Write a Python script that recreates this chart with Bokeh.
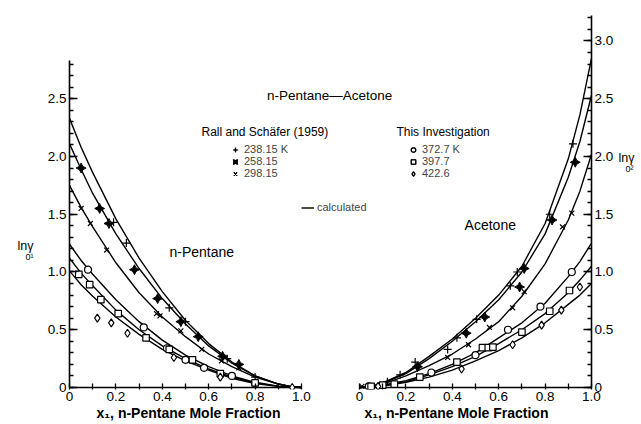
from bokeh.plotting import figure
from bokeh.layouts import row, column
from bokeh.models import (Range1d, LinearAxis, SingleIntervalTicker, FixedTicker,
                          CustomJSTickFormatter, Label, Legend, LegendItem)
from bokeh.embed import file_html
from bokeh.resources import INLINE

# ---------------- data ----------------
x_grid = [0.0, 0.05, 0.1, 0.2, 0.3, 0.4, 0.5, 0.6, 0.7, 0.8, 0.9, 0.95, 1.0]

# calculated ln gamma1 (left panel, n-pentane)
g1_23815 = [2.33, 2.08, 1.86, 1.46, 1.12, 0.83, 0.58, 0.38, 0.22, 0.10, 0.03, 0.01, 0.0]
g1_25815 = [2.11, 1.89, 1.68, 1.33, 1.03, 0.77, 0.55, 0.36, 0.21, 0.10, 0.03, 0.01, 0.0]
g1_29815 = [1.75, 1.56, 1.39, 1.08, 0.82, 0.61, 0.44, 0.29, 0.18, 0.09, 0.03, 0.01, 0.0]
g1_3727 = [1.24, 1.10, 0.98, 0.76, 0.57, 0.41, 0.28, 0.18, 0.10, 0.045, 0.012, 0.003, 0.0]
g1_3977 = [1.12, 0.99, 0.88, 0.67, 0.50, 0.36, 0.25, 0.16, 0.09, 0.04, 0.01, 0.003, 0.0]
g1_4226 = [1.01, 0.89, 0.79, 0.61, 0.46, 0.33, 0.23, 0.15, 0.08, 0.035, 0.01, 0.002, 0.0]

# calculated ln gamma2 (right panel, acetone)
g2_23815 = [0.0, 0.01, 0.04, 0.13, 0.27, 0.42, 0.60, 0.80, 1.05, 1.42, 1.98, 2.36, 2.85]
g2_25815 = [0.0, 0.01, 0.035, 0.12, 0.25, 0.40, 0.57, 0.76, 1.00, 1.33, 1.82, 2.13, 2.53]
g2_29815 = [0.0, 0.008, 0.03, 0.10, 0.19, 0.29, 0.42, 0.57, 0.79, 1.07, 1.45, 1.70, 2.02]
g2_3727 = [0.0, 0.005, 0.02, 0.06, 0.12, 0.20, 0.30, 0.43, 0.56, 0.73, 0.96, 1.09, 1.25]
g2_3977 = [0.0, 0.004, 0.015, 0.05, 0.11, 0.18, 0.27, 0.38, 0.50, 0.64, 0.82, 0.93, 1.05]
g2_4226 = [0.0, 0.003, 0.013, 0.045, 0.09, 0.15, 0.23, 0.32, 0.43, 0.56, 0.72, 0.80, 0.90]

# experimental points, left panel
L_238_x = [0.19, 0.245, 0.43, 0.50, 0.68, 0.80]
L_238_y = [1.43, 1.25, 0.69, 0.57, 0.25, 0.09]
L_258_x = [0.05, 0.13, 0.17, 0.28, 0.38, 0.48, 0.555, 0.66, 0.73]
L_258_y = [1.90, 1.55, 1.42, 1.02, 0.77, 0.57, 0.44, 0.27, 0.20]
L_298_x = [0.05, 0.09, 0.16, 0.375, 0.39, 0.48, 0.57, 0.655, 0.73]
L_298_y = [1.55, 1.42, 1.19, 0.64, 0.62, 0.49, 0.33, 0.23, 0.17]
L_373_x = [0.08, 0.32, 0.42, 0.50, 0.58, 0.70, 0.80]
L_373_y = [1.02, 0.52, 0.34, 0.24, 0.17, 0.10, 0.04]
L_398_x = [0.04, 0.087, 0.135, 0.21, 0.33, 0.43, 0.53, 0.65, 0.80]
L_398_y = [0.98, 0.89, 0.76, 0.64, 0.43, 0.33, 0.24, 0.12, 0.04]
L_423_x = [0.12, 0.18, 0.25, 0.45, 0.65, 0.96]
L_423_y = [0.60, 0.56, 0.47, 0.26, 0.09, 0.0]

# experimental points, right panel
R_238_x = [0.12, 0.175, 0.24, 0.38, 0.42, 0.505, 0.65, 0.68, 0.82, 0.92]
R_238_y = [0.05, 0.11, 0.22, 0.33, 0.43, 0.59, 0.88, 1.00, 1.50, 2.11]
R_258_x = [0.25, 0.46, 0.54, 0.69, 0.71, 0.83, 0.93]
R_258_y = [0.18, 0.47, 0.61, 0.87, 1.03, 1.45, 1.95]
R_298_x = [0.01, 0.38, 0.47, 0.56, 0.66, 0.71, 0.875, 0.915]
R_298_y = [0.01, 0.26, 0.37, 0.52, 0.69, 0.83, 1.39, 1.51]
R_373_x = [0.04, 0.31, 0.50, 0.64, 0.78, 0.915]
R_373_y = [0.01, 0.13, 0.28, 0.50, 0.70, 1.00]
R_398_x = [0.05, 0.10, 0.15, 0.26, 0.42, 0.53, 0.555, 0.575, 0.70, 0.82, 0.905]
R_398_y = [0.01, 0.02, 0.03, 0.09, 0.22, 0.345, 0.345, 0.35, 0.48, 0.66, 0.84]
R_423_x = [0.08, 0.44, 0.66, 0.785, 0.87, 0.95]
R_423_y = [0.01, 0.16, 0.37, 0.54, 0.67, 0.87]

x_ticks = [0.0, 0.2, 0.4, 0.6, 0.8, 1.0]
x_minor = [0.1, 0.3, 0.5, 0.7, 0.9]
series_labels_rall = ["238.15 K", "258.15", "298.15"]
series_labels_inv = ["372.7 K", "397.7", "422.6"]
x_axis_title = "x\u2081, n-Pentane Mole Fraction"

XOFF = 1.25      # right panel origin, in left-panel x units
FONT = "Liberation Sans"

# layout sizes (px)
LW, RW = 44, 26                  # side text strips
BL, BR, BT, BB = 24, 22, 13, 17  # main figure borders
FW, FH = 522, 376                # main frame
MH = BT + FH + BB
BH = 16                          # bottom text strip
TOTW = LW + BL + FW + BR + RW
SHIFT = 13                       # measured vertical offset of the side strips

p = figure(output_backend="svg", toolbar_location=None,
           frame_width=FW, frame_height=FH,
           x_range=Range1d(0, 2.25), y_range=Range1d(-0.0173, 3.238),
           min_border_left=BL, min_border_right=BR, min_border_top=BT, min_border_bottom=BB,
           background_fill_color="white", border_fill_color="white",
           outline_line_color=None)
p.extra_x_ranges = {"r": Range1d(-XOFF, 2.25 - XOFF)}
p.grid.visible = False

# combined x axis (both panels) -- axis lines drawn separately
xa = p.xaxis[0]
xa.ticker = FixedTicker(ticks=x_ticks + [t + XOFF for t in x_ticks],
                        minor_ticks=x_minor + [t + XOFF for t in x_minor])
xa.formatter = CustomJSTickFormatter(args=dict(off=XOFF), code="""
    let v = tick > 1.1 ? tick - off : tick;
    v = Math.round(v * 10) / 10;
    return v == 0 ? '0' : v.toFixed(1);
""")
xa.axis_line_color = None
xa.major_tick_in = 6
xa.major_tick_out = 0
xa.minor_tick_in = 6
xa.minor_tick_out = 0
xa.major_tick_line_width = 1.3
xa.minor_tick_line_width = 1.3
xa.major_label_standoff = 2

yfmt = "return tick == 0 ? '0' : tick.toFixed(1);"
ya = p.yaxis[0]
ya.bounds = (0, 2.83)
ya.ticker = SingleIntervalTicker(interval=0.5, num_minor_ticks=5)
ya.formatter = CustomJSTickFormatter(code=yfmt)
ra = LinearAxis(bounds=(0, 3.22),
                ticker=SingleIntervalTicker(interval=0.5, num_minor_ticks=5),
                formatter=CustomJSTickFormatter(code=yfmt))
p.add_layout(ra, "right")
for ax in [ya, ra]:
    ax.axis_line_width = 1.6
    ax.major_tick_in = 8
    ax.major_tick_out = 0
    ax.minor_tick_in = 4
    ax.minor_tick_out = 0
    ax.major_tick_line_width = 1.5
    ax.minor_tick_line_width = 1.3
    ax.major_label_standoff = 3
for ax in [xa, ya, ra]:
    ax.major_label_text_font = FONT
    ax.major_label_text_font_size = "13.5px"
    ax.major_label_text_color = "black"

# baselines of both panels
p.line([x_ticks[0], x_ticks[-1]], [0, 0], line_color="black", line_width=1.6)
p.line([x_ticks[0], x_ticks[-1]], [0, 0], line_color="black", line_width=1.6, x_range_name="r")

# calculated curves
calc = []
for c in [g1_23815, g1_25815, g1_29815, g1_3727, g1_3977, g1_4226]:
    calc.append(p.line(x_grid, c, line_color="black", line_width=1.4))
for c in [g2_23815, g2_25815, g2_29815, g2_3727, g2_3977, g2_4226]:
    p.line(x_grid, c, line_color="black", line_width=1.4, x_range_name="r")

styles = [
    dict(marker="cross", size=8, line_color="black", line_width=1.2),
    dict(marker="square_pin", size=7, angle=0.785398, line_color="black",
         fill_color="black", line_width=1.0),
    dict(marker="x", size=7, line_color="black", line_width=1.2),
    dict(marker="circle", size=7, line_color="black", fill_color="white", line_width=1.2),
    dict(marker="square", size=6.5, line_color="black", fill_color="white", line_width=1.2),
    dict(marker="diamond", size=8, line_color="black", fill_color="white", line_width=1.2),
]
left_pts = [(L_238_x, L_238_y), (L_258_x, L_258_y), (L_298_x, L_298_y),
            (L_373_x, L_373_y), (L_398_x, L_398_y), (L_423_x, L_423_y)]
right_pts = [(R_238_x, R_238_y), (R_258_x, R_258_y), (R_298_x, R_298_y),
             (R_373_x, R_373_y), (R_398_x, R_398_y), (R_423_x, R_423_y)]
rends = []
for st, (lx, ly), (rx, ry) in zip(styles, left_pts, right_pts):
    r1 = p.scatter(lx, ly, **st)
    r2 = p.scatter(rx, ry, x_range_name="r", **st)
    rends.append([r1, r2])

leg_common = dict(label_text_font=FONT, label_text_font_size="11px",
                  glyph_width=12, glyph_height=11, label_height=11,
                  label_standoff=3, spacing=0, padding=0, margin=0,
                  border_line_color=None, background_fill_alpha=0)
leg1 = Legend(items=[LegendItem(label=l, renderers=r) for l, r in zip(series_labels_rall, rends[:3])],
              location=(160, 210), **leg_common)
leg2 = Legend(items=[LegendItem(label=l, renderers=r) for l, r in zip(series_labels_inv, rends[3:])],
              location=(338, 210), **leg_common)
leg_common3 = dict(leg_common)
leg_common3["glyph_width"] = 13
leg3 = Legend(items=[LegendItem(label="calculated", renderers=[calc[0]])],
              location=(232, 176), **leg_common3)
for lg in [leg1, leg2, leg3]:
    p.add_layout(lg)

def txt(fig, s, x, y, size="12px", align="left", **kw):
    fig.add_layout(Label(x=x, y=y, text=s, text_font=FONT, text_font_size=size,
                         text_align=align, text_baseline="middle", text_color="black", **kw))

txt(p, "n-Pentane\u2014Acetone", 1.121, 2.528, size="13.5px", align="center")
txt(p, "Rall and Sch\u00e4fer (1959)", 0.569, 2.216)
txt(p, "This Investigation", 1.409, 2.216)
txt(p, "n-Pentane", 0.431, 1.169, size="14px")
txt(p, "Acetone", 1.703, 1.411, size="14px")

def strip(w, h):
    f = figure(output_backend="svg", toolbar_location=None,
               frame_width=w, frame_height=h,
               x_range=Range1d(0, w), y_range=Range1d(0, h),
               min_border=0, x_axis_type=None, y_axis_type=None,
               outline_line_color=None, background_fill_color="white",
               border_fill_color="white")
    f.grid.visible = False
    return f

# left strip: y-axis quantity of left panel
ls = strip(LW, MH)
txt(ls, "ln\u03b3", 17, MH - 245 + SHIFT, size="12.5px")
txt(ls, "0\u00b9", 25, MH - 256 + SHIFT, size="9px")

# right strip: y-axis quantity of right panel
rs = strip(RW, MH)
txt(rs, "ln\u03b3", 2, MH - 157 + SHIFT, size="12.5px")
txt(rs, "0\u00b2", 9, MH - 168 + SHIFT, size="9px")

# bottom strip: x-axis titles
bs = strip(TOTW, BH)
txt(bs, x_axis_title, 188, BH - (412 - MH), size="14px", align="center", text_font_style="bold")
txt(bs, x_axis_title, 456, BH - (412 - MH), size="14px", align="center", text_font_style="bold")

layout = column(row(ls, p, rs, spacing=0), bs, spacing=0)
open("out.html", "w").write(file_html(layout, INLINE))
